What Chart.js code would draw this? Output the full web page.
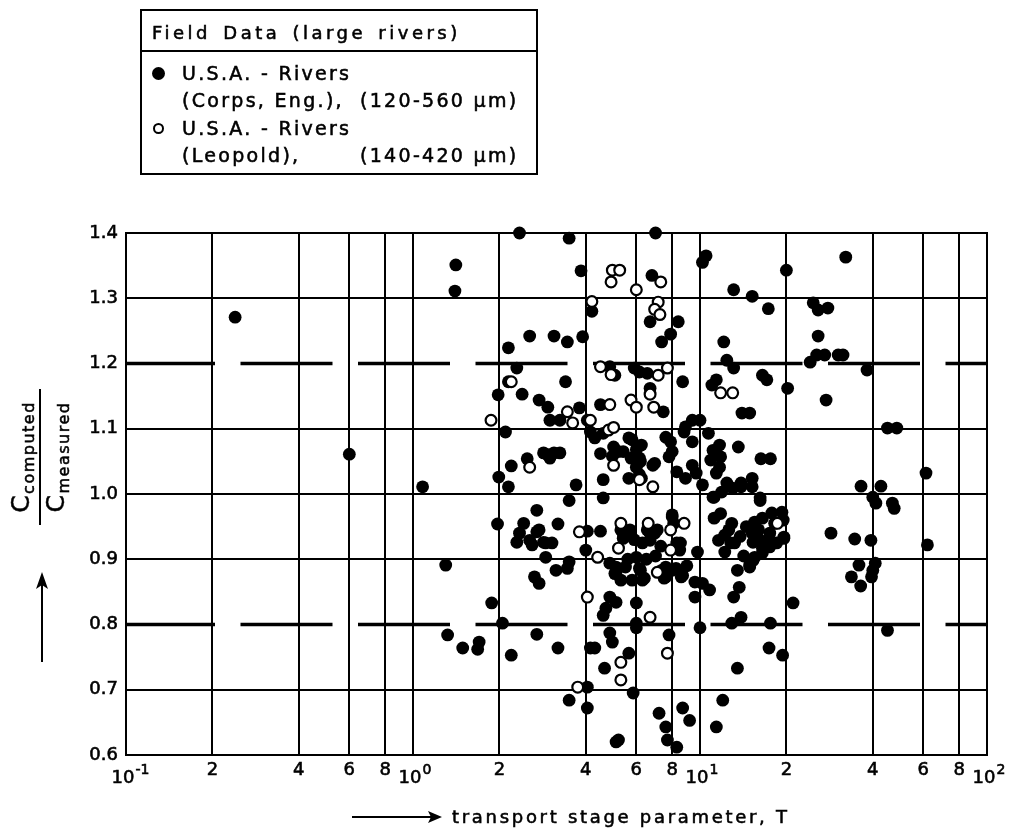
<!DOCTYPE html>
<html>
<head>
<meta charset="utf-8">
<script src="https://cdn.jsdelivr.net/npm/chart.js@4/dist/chart.umd.min.js"></script>
<style>
  html, body { margin:0; padding:0; background:#fff; }
  body { width:1011px; height:833px; position:relative; overflow:hidden; font-family:"DejaVu Sans", sans-serif; color:#000; }
  #wrap { position:absolute; left:0; top:0; width:1011px; height:833px; }
  .t { position:absolute; white-space:nowrap; font-size:19px; line-height:20px; height:20px; letter-spacing:2.3px; -webkit-text-stroke:0.55px #000; }
  #legendBox { position:absolute; left:140px; top:9px; width:394px; height:162px; border:2px solid #000; }
  #legendDiv { position:absolute; left:140px; top:50px; width:398px; height:2px; background:#000; }
  .mk { position:absolute; border-radius:50%; box-sizing:border-box; }
  #ytitle { position:absolute; left:-30px; top:422px; width:140px; height:70px; transform:rotate(-90deg); transform-origin:50% 50%; -webkit-text-stroke:0.5px #000; }
  #ytitle .row { position:absolute; left:0; width:140px; text-align:center; white-space:nowrap; letter-spacing:1.5px; }
  #ytitle .big { font-size:25px; }
  #ytitle .sub { font-size:16px; position:relative; top:5px; }
  #ytitle .bar { position:absolute; left:2px; width:136px; height:2px; top:34px; background:#000; }
</style>
</head>
<body>
<div id="wrap"><canvas id="c" width="1011" height="833"></canvas></div>

<div id="legendBox"></div>
<div id="legendDiv"></div>
<div class="t" style="left:152px;top:23px;font-size:18px;letter-spacing:3.5px;word-spacing:3px;">Field Data (large rivers)</div>
<div class="mk" style="left:152px;top:67px;width:13px;height:13px;background:#000;"></div>
<div class="t" style="left:182px;top:63px;">U.S.A. - Rivers</div>
<div class="t" style="left:182px;top:90px;">(Corps, Eng.),</div>
<div class="t" style="left:360px;top:90px;">(120-560 µm)</div>
<div class="mk" style="left:153px;top:123px;width:11px;height:11px;border:2px solid #000;background:#fff;"></div>
<div class="t" style="left:182px;top:118px;">U.S.A. - Rivers</div>
<div class="t" style="left:182px;top:145px;">(Leopold),</div>
<div class="t" style="left:360px;top:145px;">(140-420 µm)</div>

<div id="ytitle">
  <div class="row" style="top:1px;"><span class="big">C</span><span class="sub">computed</span></div>
  <div class="bar"></div>
  <div class="row" style="top:36px;"><span class="big">C</span><span class="sub">measured</span></div>
</div>

<div class="t" style="left:452px;top:807px;font-size:18px;letter-spacing:2.7px;">transport stage parameter, T</div>

<script>
// ---- tick values / labels ----
const xTickValues = [0.1,0.2,0.4,0.6,0.8,1,2,4,6,8,10,20,40,60,80,100];
const xTickLabels = ['10^-1','2','4','6','8','10^0','2','4','6','8','10^1','2','4','6','8','10^2'];
const yTickValues = [0.6,0.7,0.8,0.9,1.0,1.1,1.2,1.3,1.4];
const yTickLabels = ['0.6','0.7','0.8','0.9','1.0','1.1','1.2','1.3','1.4'];
const dashedLevels = [1.2, 0.8];

// ---- series: [T, Ccomputed/Cmeasured] ----
const corpsData = [
[0.24,1.271],[0.60,1.061],[1.41,1.351],[1.40,1.311],[1.08,1.011],
[1.30,0.891],[1.88,0.833],[2.05,0.802],[1.32,0.784],[1.49,0.764],[1.70,0.773],[1.68,0.762],[2.2,0.753],[2.7,0.785],[3.2,0.764],
[1.97,0.954],[2.7,0.975],
[2.35,1.40],[3.5,1.392],[3.85,1.342],[2.15,1.224],[2.55,1.242],[3.1,1.242],[3.45,1.233],[3.9,1.241],[2.3,1.193],[2.15,1.172],[1.98,1.152],[2.4,1.153],[2.75,1.144],[2.95,1.133],[3.25,1.113],[3.0,1.113],[2.1,1.095],[2.2,1.043],[2.5,1.054],[2.95,1.06],[3.1,1.063],[2.85,1.063],[3.25,1.063],[3.0,1.055],[1.99,1.026],[2.15,1.011],[3.4,1.172],[3.8,1.132],[4.05,1.113],[4.5,1.137],[4.85,1.195],[4.2,1.28],[3.7,1.014],[4.15,1.095],[4.3,1.086],[4.6,1.093],[4.5,1.062],[5.0,1.072],[4.6,1.022],[5.2,1.065],[4.95,1.058],
[7.0,1.40],[6.8,1.335],[6.7,1.264],[8.4,1.264],[7.9,1.245],[7.35,1.233],[6.15,1.187],[6.55,1.185],[5.9,1.193],[5.05,1.182],[6.7,1.162],[7.45,1.126],[8.7,1.172],[8.9,1.103],[9.4,1.113],[10,1.113],[8.8,1.095],[9.4,1.08],[10.7,1.093],
[5.4,1.065],[5.65,1.086],[6.25,1.075],[5.8,1.083],[6.0,1.068],[5.75,1.055],[6.15,1.055],[6.2,1.05],[6.0,1.041],[6.85,1.044],[6.95,1.047],[5.65,1.024],[6.25,1.024],[6.15,1.030],
[7.6,1.087],[7.9,1.08],[8.0,1.065],[7.8,1.057],[8.3,1.034],[8.9,1.024],[9.4,1.044],[9.7,1.032],[10.2,1.014],
[10.2,1.355],[10.5,1.365],[20,1.343],[32.2,1.363],[13.1,1.313],[15.2,1.303],[17.3,1.284],[24.8,1.293],[25.8,1.282],[27.9,1.285],[12.1,1.233],[25.8,1.242],[12.4,1.205],[13.1,1.193],[16.5,1.182],[17.1,1.175],[20.2,1.162],[11.4,1.175],[11.0,1.167],[14.0,1.124],[14.9,1.124],[24.2,1.202],[25.5,1.213],[27.2,1.213],[30.3,1.213],[31.5,1.213],[38.2,1.19],[27.5,1.144],[45,1.101],[48.5,1.101],[61.3,1.032],[36.4,1.012],[42.7,1.012],
[11.1,1.067],[11.7,1.075],[11.8,1.057],[10.9,1.052],[11.7,1.041],[11.4,1.032],[12.4,1.017],[13.9,1.017],[13.6,1.072],[15.2,1.024],[16.3,1.054],[17.6,1.054],[13.0,1.009],
[40,0.995],[41,0.986],[46.8,0.986],[47.5,0.978],[28.6,0.94],[34.6,0.931],[39.4,0.929],[62,0.922],[35.8,0.891],[40,0.883],[40.8,0.894],[33.7,0.873],[36.3,0.859],[39.6,0.873],[45,0.791],[21.1,0.833],[19.6,0.932],[17.6,0.802],[13.9,0.811],[12.9,0.802],[17.4,0.764],[19.4,0.753],[13.5,0.733],[12.0,0.684],[11.4,0.643],[13.5,0.883],[13.7,0.857],[13.1,0.842],
[9.6,0.865],[10.2,0.863],[10.8,0.853],[9.6,0.842],[10.0,0.795],
[8.7,0.672],[9.2,0.653],[7.2,0.664],[7.6,0.643],[7.7,0.623],[8.3,0.612],[5.85,0.695],[5.2,0.623],[7.8,0.784],[6.0,0.833],[6.0,0.802],[6.0,0.795],[5.65,0.756],
[8.0,0.965],[7.1,0.945],[6.7,0.94],[5.4,0.94],[5.7,0.945],[8.55,0.925],[9.8,0.911],
[11.2,0.963],[12.9,0.955],[12.2,0.937],[11.6,0.929],[12.2,0.911],[13.2,0.925],
[15.5,0.957],[16.5,0.963],[17.8,0.971],[19.3,0.972],[19.5,0.96],[15.2,0.94],[15.9,0.932],[17.1,0.929],[16.5,0.917],[15.5,0.903],[16.5,0.91],[14.9,0.891],[19.6,0.934],[11.2,0.995],[16.2,0.99],
[5.1,0.888],[5.5,0.888],[6.2,0.883],[6.4,0.871],[7.6,0.888],[8.0,0.883],[8.6,0.873],[7.6,0.873],[5.1,0.834],
[2.43,0.955],[2.35,0.94],[2.3,0.926],[2.55,0.929],[2.7,0.942],[2.6,0.922],[3.2,0.954],[2.9,0.925],[3.05,0.925],[2.9,0.903],[3.15,0.883],[3.45,0.886],[3.5,0.896],[2.65,0.873],[2.75,0.863],[3.5,0.99],[4.6,0.994],[4.05,0.943],[4.5,0.943],[4.0,0.914],[4.85,0.894],[5.1,0.880],[4.85,0.842],[4.7,0.825],[4.6,0.814],[4.85,0.787],[4.95,0.773],[4.3,0.764],[4.65,0.733],[4.05,0.704],[3.5,0.684],[4.05,0.672],[5.1,0.62],
[2.75,0.945],[2.85,0.926],[5.05,0.878],[5.3,0.868],[5.8,0.868],[6.3,0.868],[6.15,0.886],[6.0,0.903],[6.55,0.945],[6.95,0.94],[6.7,0.929],[5.3,0.945],[5.65,0.937],[5.4,0.932],[8.0,0.968],[8.1,0.955],[8.3,0.925],[8.5,0.914],[7.35,0.883],[7.7,0.883],[8.25,0.886],[8.7,0.875],[7.5,0.871],[15.3,0.926],[17.5,0.919],[15.3,0.898],[14.9,0.888],[11.1,0.995],[11.9,1.003],[13.9,1.011],[15.2,1.011],[16.2,0.994],[4.15,0.764],
[11.8,0.97],[12.6,0.945],[13.8,0.935],[14.5,0.95],[16.0,0.945],[17.5,0.94],[18.2,0.955],[14.2,0.905],[12.8,0.925],[18.5,0.925],
[5.9,0.93],[6.3,0.925],[6.5,0.9],[7.0,0.905],[5.6,0.9],[7.3,0.92],[9.0,0.89]
];

const leopoldData = [
[4.95,1.343],[5.25,1.343],[4.9,1.325],[6.0,1.313],[7.3,1.325],[4.2,1.295],[7.15,1.294],[6.95,1.283],[7.25,1.275],[2.2,1.172],[1.87,1.113],[2.55,1.041],[3.45,1.126],[3.6,1.109],[4.15,1.113],[4.85,1.137],[4.5,1.195],[4.9,1.183],[4.8,1.098],[5.0,1.102],[5.0,1.044],[6.15,1.022],[6.85,1.011],[6.7,1.153],[7.15,1.182],[7.7,1.193],[6.9,1.133],[5.75,1.144],[6.0,1.133],[11.8,1.155],[13.0,1.155],
[5.3,0.955],[6.6,0.955],[8.8,0.955],[7.9,0.945],[7.9,0.914],[5.2,0.917],[18.6,0.955],[3.8,0.942],[4.4,0.903],[4.05,0.842],[6.7,0.811],[7.7,0.756],[5.3,0.742],[5.3,0.715],[7.1,0.88],[3.75,0.704]
];

const toXY = arr => arr.map(p => ({x:p[0], y:p[1]}));
const isDashed = v => dashedLevels.some(d => Math.abs(d - v) < 1e-6);

function boldText(ctx, s, x, y) {
  ctx.fillText(s, x, y);
  ctx.strokeText(s, x, y);
}

const decor = {
  id:'decor',
  afterDraw(chart){
    const ctx = chart.ctx, ca = chart.chartArea, xs = chart.scales.x, ys = chart.scales.y;
    ctx.save();
    // frame
    ctx.strokeStyle = '#000'; ctx.lineWidth = 2;
    ctx.strokeRect(ca.left, ca.top, ca.right - ca.left, ca.bottom - ca.top);
    ctx.fillStyle = '#000';
    ctx.lineWidth = 0.6;
    ctx.textBaseline = 'middle';
    // y tick labels
    ctx.font = '18px "DejaVu Sans"';
    ctx.textAlign = 'right';
    yTickValues.forEach((v, i) => {
      boldText(ctx, yTickLabels[i], ca.left - 8, ys.getPixelForValue(v));
    });
    // x tick labels
    xTickValues.forEach((v, i) => {
      const lab = xTickLabels[i];
      const px = xs.getPixelForValue(v);
      if (lab.indexOf('^') >= 0) {
        const parts = lab.split('^');
        ctx.font = '18px "DejaVu Sans"';
        ctx.textAlign = 'center';
        const cx = px - 3;
        boldText(ctx, parts[0], cx, 778);
        const w = ctx.measureText(parts[0]).width;
        ctx.font = '14px "DejaVu Sans"';
        ctx.textAlign = 'left';
        boldText(ctx, parts[1], cx + w/2 + 1, 770);
      } else {
        ctx.font = '18px "DejaVu Sans"';
        ctx.textAlign = 'center';
        boldText(ctx, lab, px, 770);
      }
    });
    // x title arrow
    ctx.lineWidth = 2;
    ctx.beginPath(); ctx.moveTo(352, 817); ctx.lineTo(432, 817); ctx.stroke();
    ctx.beginPath(); ctx.moveTo(442, 817); ctx.lineTo(428, 811); ctx.lineTo(431, 817); ctx.lineTo(428, 823); ctx.closePath(); ctx.fill();
    // y title arrow
    ctx.beginPath(); ctx.moveTo(42, 662); ctx.lineTo(42, 585); ctx.stroke();
    ctx.beginPath(); ctx.moveTo(42, 572); ctx.lineTo(36, 589); ctx.lineTo(42, 585); ctx.lineTo(48, 589); ctx.closePath(); ctx.fill();
    ctx.restore();
  }
};

new Chart(document.getElementById('c'), {
  type:'scatter',
  data:{
    datasets:[
      { label:'U.S.A. - Rivers (Leopold)', data: toXY(leopoldData), pointRadius:5.4, pointHoverRadius:5.4,
        backgroundColor:'#fff', borderColor:'#000', borderWidth:2.2, clip:false },
      { label:'U.S.A. - Rivers (Corps, Eng.)', data: toXY(corpsData), pointRadius:6.4, pointHoverRadius:6.4,
        backgroundColor:'#000', borderColor:'#000', borderWidth:0, clip:false },
      { label:'ref 1.2', type:'line', data:[{x:0.1,y:dashedLevels[0]},{x:100,y:dashedLevels[0]}],
        borderColor:'#000', borderWidth:3.5, borderDash:[92,25.5], borderDashOffset:3, pointRadius:0, fill:false },
      { label:'ref 0.8', type:'line', data:[{x:0.1,y:dashedLevels[1]},{x:100,y:dashedLevels[1]}],
        borderColor:'#000', borderWidth:3.5, borderDash:[92,25.5], borderDashOffset:3, pointRadius:0, fill:false }
    ]
  },
  options:{
    responsive:false,
    animation:false,
    devicePixelRatio:1,
    layout:{ padding:{ top:233, right:24, bottom:0, left:0 } },
    plugins:{ legend:{display:false}, tooltip:{enabled:false}, title:{display:false} },
    scales:{
      x:{
        type:'logarithmic', min:0.1, max:100,
        afterBuildTicks: s => { s.ticks = xTickValues.map(v => ({value:v})); },
        afterFit: s => { s.height = 78; },
        ticks:{ display:false },
        grid:{ color:'#000', lineWidth:2, drawTicks:false },
        border:{ color:'#000', width:2 }
      },
      y:{
        type:'linear', min:0.6, max:1.4,
        afterBuildTicks: s => { s.ticks = yTickValues.map(v => ({value:v})); },
        afterFit: s => { s.width = 126; },
        ticks:{ display:false },
        grid:{ color: c => (c.tick && isDashed(c.tick.value)) ? 'rgba(0,0,0,0)' : '#000', lineWidth:2, drawTicks:false },
        border:{ color:'#000', width:2 }
      }
    }
  },
  plugins:[decor]
});
</script>
</body>
</html>
